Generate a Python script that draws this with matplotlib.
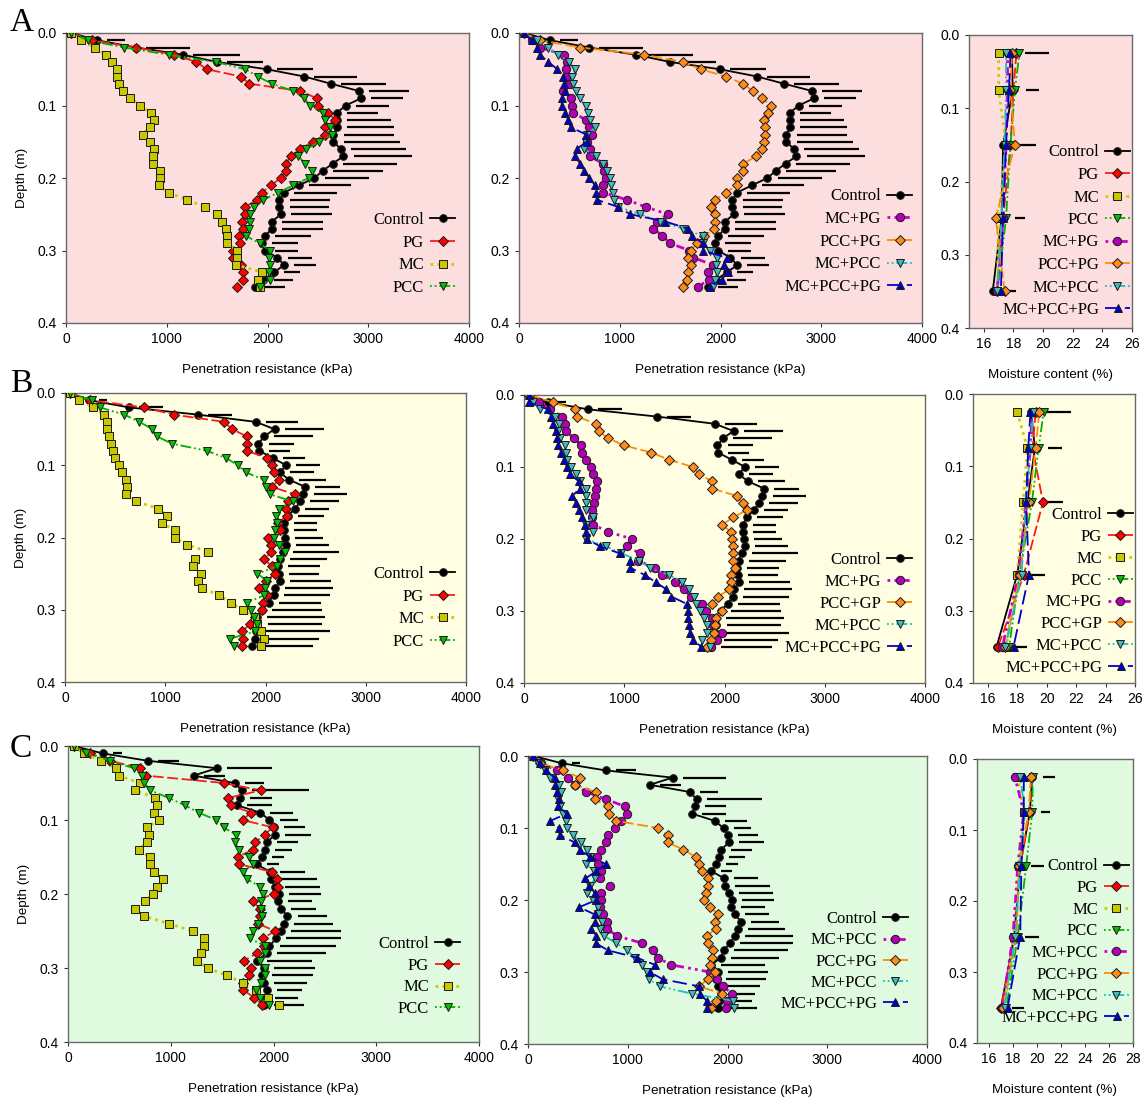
import matplotlib
matplotlib.use('Agg')
import matplotlib.pyplot as plt
import numpy as np

W, H = 1146, 1097

depth = [0.00, 0.01, 0.02, 0.03, 0.04, 0.05, 0.06, 0.07, 0.08, 0.09, 0.10, 0.11,
         0.12, 0.13, 0.14, 0.15, 0.16, 0.17, 0.18, 0.19, 0.20, 0.21, 0.22, 0.23,
         0.24, 0.25, 0.26, 0.27, 0.28, 0.29, 0.30, 0.31, 0.32, 0.33, 0.34, 0.35]
depth_wc = [0.025, 0.075, 0.15, 0.25, 0.35]

# ---- A : penetration resistance (kPa)
ctrl_a = [53, 307, 698, 1160, 1500, 1993, 2364, 2631, 2909, 2929, 2777, 2688, 2688, 2688, 2655, 2655, 2727, 2754,
          2648, 2549, 2466, 2314, 2165, 2119, 2119, 2135, 2043, 2043, 1977, 1944, 1977, 2099, 2165, 2066, 1960, 1878]
ctrl_a_err = [0, 275, 528, 569, 454, 463, 522, 546, 499, 420, 433, 413, 535, 568, 605, 661, 648, 677,
              641, 595, 546, 512, 523, 502, 496, 503, 506, 512, 456, 357, 324, 341, 318, 258, 291, 297]
pg_a = [50, 260, 698, 1074, 1293, 1398, 1736, 1821, 2324, 2489, 2506, 2605, 2671, 2572, 2572, 2450, 2324, 2231,
        2185, 2185, 2132, 2036, 1944, 1894, 1778, 1778, 1745, 1752, 1722, 1729, 1656, 1656, 1736, 1755, 1755, 1702]
mc_a = [53, 152, 284, 400, 460, 506, 506, 522, 565, 638, 737, 843, 876, 830, 760, 836, 869, 860,
        860, 936, 929, 919, 1018, 1200, 1382, 1498, 1547, 1587, 1597, 1597, 1702, 1702, 1689, 1950, 1904, 1921]
pcc_a = [53, 218, 579, 1018, 1491, 1779, 1904, 2043, 2258, 2364, 2423, 2549, 2572, 2621, 2638, 2516, 2383, 2307,
         2374, 2440, 2407, 2258, 2109, 1960, 1868, 1822, 1822, 1812, 1788, 1921, 2020, 2010, 2020, 2010, 2020, 1921]
mcpg_a = [50, 130, 209, 447, 480, 467, 467, 507, 440, 513, 523, 540, 666, 699, 728, 672, 705, 705,
          831, 844, 864, 838, 831, 1070, 1258, 1477, 1368, 1334, 1424, 1500, 1689, 1732, 1930, 1874, 1881, 1781]
pccpg_a = [50, 209, 606, 1245, 1626, 1805, 2053, 2222, 2321, 2414, 2503, 2474, 2427, 2444, 2437, 2427, 2411, 2354,
           2228, 2222, 2162, 2162, 2056, 1950, 1907, 1947, 1950, 1940, 1841, 1765, 1709, 1682, 1705, 1682, 1666, 1623]
mcpcc_a = [50, 175, 291, 391, 500, 556, 523, 533, 566, 606, 666, 689, 705, 755, 679, 666, 649, 765,
           831, 871, 904, 911, 937, 947, 987, 1202, 1401, 1632, 1825, 1831, 1897, 1970, 1957, 1964, 1947, 1930]
mcpccpg_a = [50, 126, 182, 209, 291, 381, 434, 450, 457, 424, 424, 457, 490, 513, 666, 672, 573, 556,
             606, 649, 699, 755, 765, 772, 987, 1103, 1450, 1682, 1715, 1825, 1825, 2063, 2030, 2070, 2013, 1897]

# ---- A : moisture content (%)
wc_ctrl_a = [17.9, 17.95, 17.3, 17.2, 16.6]
wc_ctrl_a_err = [2.5, 1.8, 2.2, 1.6, 1.6]
wc_pg_a = [18.2, 18.0, 17.8, 17.3, 16.9]
wc_mc_a = [17.0, 17.0, 17.5, 17.0, 16.9]
wc_pcc_a = [18.4, 18.1, 17.8, 17.5, 16.9]
wc_mcpg_a = [17.6, 17.6, 17.5, 17.3, 16.9]
wc_pccpg_a = [17.9, 17.8, 18.1, 16.8, 17.4]
wc_mcpcc_a = [17.5, 17.5, 17.4, 17.2, 16.9]
wc_mcpccpg_a = [17.8, 17.7, 17.5, 17.3, 17.15]

# ---- B : penetration resistance (kPa)
ctrl_b = [50, 243, 642, 1331, 1903, 2090, 1987, 1930, 1937, 2073, 2206, 2140, 2236, 2396, 2379, 2346, 2296, 2220,
          2186, 2186, 2196, 2206, 2173, 2140, 2120, 2130, 2146, 2096, 2080, 2030, 1963, 1913, 1920, 1907, 1897, 1864]
ctrl_b_err = [0, 173, 340, 333, 420, 496, 482, 350, 309, 323, 333, 339, 366, 349, 433, 383, 333, 359,
              326, 326, 373, 423, 562, 472, 426, 399, 510, 573, 566, 526, 599, 676, 642, 739, 632, 605]
pg_b = [50, 250, 789, 1088, 1591, 1664, 1814, 1814, 1814, 2013, 2063, 2080, 2133, 2063, 2290, 2220, 2206, 2213,
        2120, 2140, 2023, 2053, 2053, 1990, 2063, 2096, 2007, 1940, 2013, 1980, 1963, 1897, 1847, 1764, 1774, 1764]
mc_b = [50, 143, 276, 393, 423, 416, 443, 456, 483, 502, 542, 569, 609, 622, 609, 706, 932, 1022,
        965, 1098, 1098, 1221, 1431, 1298, 1281, 1358, 1331, 1371, 1537, 1654, 1774, 1897, 1913, 1957, 1987, 1957]
pcc_b = [50, 266, 349, 592, 742, 872, 915, 1065, 1414, 1607, 1724, 1804, 1987, 2003, 2040, 2270, 2130, 2106,
         2113, 2096, 2080, 2130, 2196, 2146, 2113, 1920, 2013, 1997, 1987, 1814, 1854, 1887, 1913, 1897, 1647, 1681]
mcpg_b = [50, 150, 263, 379, 406, 416, 499, 572, 582, 622, 666, 689, 729, 715, 705, 695, 682, 682,
          689, 839, 1078, 1028, 1155, 1138, 1304, 1378, 1504, 1594, 1661, 1780, 1820, 1880, 1887, 1980, 1930, 1864]
pccpg_b = [50, 290, 506, 529, 722, 745, 839, 998, 1271, 1448, 1687, 1744, 1877, 1877, 2120, 2180, 2220, 2087,
           1977, 2060, 2070, 2087, 2080, 2087, 2103, 2060, 2060, 2047, 1937, 1877, 1980, 1913, 1904, 1897, 1870, 1830]
mcpcc_b = [50, 90, 156, 306, 349, 339, 356, 406, 416, 429, 473, 522, 556, 622, 616, 616, 622, 689,
           616, 689, 616, 815, 972, 1148, 1255, 1448, 1581, 1647, 1697, 1714, 1754, 1797, 1827, 1827, 1780, 1854]
mcpccpg_b = [50, 50, 240, 273, 290, 316, 329, 343, 373, 396, 429, 456, 549, 556, 483, 522, 549, 582,
             606, 616, 629, 755, 955, 1055, 1062, 1205, 1314, 1421, 1471, 1621, 1637, 1637, 1647, 1654, 1687, 1770]

# ---- B : moisture content (%)
wc_ctrl_b = [18.95, 19.2, 18.7, 18.0, 16.6]
wc_ctrl_b_err = [2.7, 1.85, 2.4, 1.9, 2.1]
wc_pg_b = [19.25, 19.05, 19.75, 18.45, 16.7]
wc_mc_b = [18.0, 18.7, 18.4, 18.0, 17.25]
wc_pcc_b = [19.8, 19.45, 19.0, 18.15, 17.45]
wc_mcpg_b = [19.0, 18.9, 18.6, 18.1, 17.0]
wc_pccpg_b = [19.5, 19.25, 18.8, 18.2, 17.2]
wc_mcpcc_b = [19.1, 18.9, 18.6, 18.3, 17.2]
wc_mcpccpg_b = [18.9, 18.75, 18.6, 18.8, 17.75]

# ---- C : penetration resistance (kPa)
ctrl_c = [55, 337, 778, 1449, 1222, 1621, 1692, 1676, 1643, 1870, 1961, 2006, 2016, 1935, 1919, 1887, 1838, 1968,
          1974, 2016, 2049, 2039, 2075, 2136, 2104, 2071, 2026, 1961, 1935, 1838, 1903, 1887, 1903, 1935, 1919, 1903]
ctrl_c_err = [0, 188, 305, 535, 308, 282, 655, 308, 341, 324, 276, 302, 350, 308, 259, 217, 211, 340,
              454, 438, 415, 334, 340, 383, 473, 584, 629, 648, 577, 541, 502, 502, 421, 341, 324, 389]
pg_c = [55, 211, 412, 703, 758, 1514, 1877, 1562, 1585, 1780, 1699, 1994, 1913, 1822, 1799, 1650, 1669, 1984,
        2032, 2042, 2000, 1805, 1864, 1864, 1848, 2016, 1896, 1903, 1838, 1715, 1780, 1757, 1708, 1708, 1812, 1887]
mc_c = [55, 152, 321, 470, 493, 697, 655, 849, 865, 833, 882, 768, 784, 768, 687, 794, 794, 833,
        924, 866, 823, 752, 655, 742, 979, 1216, 1326, 1326, 1297, 1255, 1358, 1546, 1699, 1831, 1951, 2049]
pcc_c = [55, 178, 412, 639, 720, 742, 801, 979, 1135, 1271, 1443, 1514, 1637, 1627, 1660, 1757, 1796, 1708,
         1741, 1870, 1896, 1877, 1877, 1887, 1848, 1805, 1767, 1919, 1919, 1864, 1919, 1919, 1880, 1831, 1870, 1961]
mcpg_c = [50, 134, 291, 402, 470, 586, 780, 971, 997, 937, 870, 803, 780, 736, 693, 706, 736, 720,
          820, 736, 730, 726, 753, 787, 787, 897, 1145, 1249, 1299, 1433, 1824, 1891, 1958, 2042, 1992, 1985]
pccpg_c = [50, 117, 351, 519, 469, 680, 669, 797, 810, 880, 1305, 1399, 1399, 1556, 1680, 1717, 1747, 1808,
           1801, 1781, 1764, 1824, 1908, 1874, 1881, 1791, 1801, 1851, 1848, 1824, 1874, 1801, 1717, 1941, 1884, 1831]
mcpcc_c = [50, 100, 167, 218, 311, 335, 301, 318, 355, 385, 392, 452, 536, 592, 619, 586, 659, 676,
           619, 592, 653, 703, 703, 740, 720, 763, 887, 994, 1071, 1145, 1188, 1212, 1322, 1640, 2059, 2065]
mcpccpg_c = [50, 117, 177, 268, 268, 291, 308, 300, 392, 224, 311, 318, 469, 525, 619, 780, 686, 576,
             612, 669, 686, 512, 669, 669, 636, 686, 680, 803, 1088, 1272, 1222, 1349, 1717, 1724, 1791, 1791]

# ---- C : moisture content (%)
wc_ctrl_c = [19.6, 19.4, 18.6, 18.1, 17.0]
wc_ctrl_c_err = [1.9, 1.65, 2.0, 2.1, 1.95]
wc_pg_c = [19.5, 19.4, 18.6, 18.2, 17.0]
wc_mc_c = [18.35, 18.95, 18.5, 18.05, 17.25]
wc_pcc_c = [19.65, 19.6, 19.1, 18.4, 17.45]
wc_mcpg_c = [18.15, 18.9, 18.4, 18.0, 17.1]
wc_pccpg_c = [19.5, 19.3, 18.5, 18.3, 17.2]
wc_mcpcc_c = [18.6, 19.0, 18.6, 18.2, 17.3]
wc_mcpccpg_c = [18.9, 18.9, 18.7, 18.6, 17.55]

dash2 = (0, (1, 1.6, 1, 1.6, 6, 1.6))
styles = {
    'Control':   dict(color='black', marker='o', mfc='black', ms=5.5, ls='-', lw=1.3),
    'PG':        dict(color='#ff1a1a', marker='D', mfc='#ff0000', ms=5, ls=(0, (6, 2)), lw=1.3),
    'MC':        dict(color='#cccc00', marker='s', mfc='#c8c800', ms=5.5, ls=(0, (1, 1.5)), lw=2),
    'PCC':       dict(color='#00b000', marker='v', mfc='#00c000', ms=6, ls=dash2, lw=1.3),
    'MC+PG':     dict(color='#cc00cc', marker='o', mfc='#b400b4', ms=6, ls=(0, (1, 1.5, 1, 1.5, 3, 1.5)), lw=2),
    'PCC+PG':    dict(color='#ff8c00', marker='D', mfc='#ff8c1a', ms=5, ls=(0, (6, 2)), lw=1.3),
    'MC+PCC':    dict(color='#1ac0c0', marker='v', mfc='#3cbcbc', ms=6, ls=dash2, lw=1.3),
    'MC+PCC+PG': dict(color='#0000cc', marker='^', mfc='#0000cc', ms=6, ls=(0, (8, 3)), lw=1.3),
}

bg_a, bg_b, bg_c = '#fcdede', '#fffde2', '#e0fae0'
sans = ['Liberation Sans', 'DejaVu Sans']
serif = ['Liberation Serif', 'DejaVu Serif']

plt.rcParams['font.family'] = sans

fig = plt.figure(figsize=(W / 100, H / 100), dpi=100)


def px_axes(l, t, r, b):
    return fig.add_axes([l / W, 1 - b / H, (r - l) / W, (b - t) / H])


def style_axes(ax, bg, xlim, xticks, xlabel, ylabel):
    ax.set_facecolor(bg)
    ax.set_ylim(0.4, 0)
    ax.set_yticks([0.0, 0.1, 0.2, 0.3, 0.4])
    ax.set_yticklabels(['0.0', '0.1', '0.2', '0.3', '0.4'])
    ax.set_xlim(*xlim)
    ax.set_xticks(xticks)
    ax.tick_params(direction='out', length=3, width=0.8, labelsize=10, colors='#333333', labelcolor='black')
    for s in ax.spines.values():
        s.set_color('#6a6a6a')
        s.set_linewidth(1.0)
    ax.set_xlabel(xlabel, fontsize=9.7, labelpad=13)
    if ylabel:
        ax.set_ylabel(ylabel, fontsize=9.7, labelpad=7)


def add_legend(ax, box, inset_r, inset_b, spacing):
    l, t, r, b = box
    ax.legend(loc='lower right', bbox_to_anchor=(1 - inset_r / (r - l), inset_b / (b - t)),
              frameon=False, prop={'family': serif, 'size': 12}, markerfirst=False,
              handlelength=1.5, handletextpad=0.35, labelspacing=spacing,
              borderpad=0, borderaxespad=0)


def plot_series(ax, y, items):
    for key, label, vals in items:
        st = styles[key]
        ax.plot(vals, y, color=st['color'], ls=st['ls'], lw=st['lw'], marker=st['marker'],
                ms=st['ms'], mfc=st['mfc'], mec='#1a1a1a', mew=0.7, label=label, zorder=3)


def err_lines(ax, y, ctrl, err, gap):
    c = np.array(ctrl, float)
    e = np.array(err, float)
    keep = e > 0
    ax.hlines(np.array(y)[keep], (c + gap)[keep], (c + e)[keep], color='black', lw=1.6, zorder=2)


rows = [
    dict(bg=bg_a, letter='A', letter_xy=(10, 31),
         boxes=[(66, 33, 469, 323), (519, 33, 922, 323), (969, 35, 1132, 328)],
         leg=[(14, 27, 0.40), (10, 28, 0.40), (2, 10, 0.39)],
         ctrl=ctrl_a, err=ctrl_a_err,
         left=[('PG', 'PG', pg_a), ('MC', 'MC', mc_a), ('PCC', 'PCC', pcc_a)],
         mid=[('MC+PG', 'MC+PG', mcpg_a), ('PCC+PG', 'PCC+PG', pccpg_a),
              ('MC+PCC', 'MC+PCC', mcpcc_a), ('MC+PCC+PG', 'MC+PCC+PG', mcpccpg_a)],
         wc_ctrl=wc_ctrl_a, wc_err=wc_ctrl_a_err,
         wc=[('PG', 'PG', wc_pg_a), ('MC', 'MC', wc_mc_a), ('PCC', 'PCC', wc_pcc_a),
             ('MC+PG', 'MC+PG', wc_mcpg_a), ('PCC+PG', 'PCC+PG', wc_pccpg_a),
             ('MC+PCC', 'MC+PCC', wc_mcpcc_a), ('MC+PCC+PG', 'MC+PCC+PG', wc_mcpccpg_a)],
         wc_lim=(15, 26), wc_ticks=[16, 18, 20, 22, 24, 26]),
    dict(bg=bg_b, letter='B', letter_xy=(10, 392),
         boxes=[(65, 393, 466, 682), (524, 395, 925, 683), (973, 394, 1135, 683)],
         leg=[(11, 32, 0.40), (13, 27, 0.36), (2, 7, 0.35)],
         ctrl=ctrl_b, err=ctrl_b_err,
         left=[('PG', 'PG', pg_b), ('MC', 'MC', mc_b), ('PCC', 'PCC', pcc_b)],
         mid=[('MC+PG', 'MC+PG', mcpg_b), ('PCC+PG', 'PCC+GP', pccpg_b),
              ('MC+PCC', 'MC+PCC', mcpcc_b), ('MC+PCC+PG', 'MC+PCC+PG', mcpccpg_b)],
         wc_ctrl=wc_ctrl_b, wc_err=wc_ctrl_b_err,
         wc=[('PG', 'PG', wc_pg_b), ('MC', 'MC', wc_mc_b), ('PCC', 'PCC', wc_pcc_b),
             ('MC+PG', 'MC+PG', wc_mcpg_b), ('PCC+PG', 'PCC+GP', wc_pccpg_b),
             ('MC+PCC', 'MC+PCC', wc_mcpcc_b), ('MC+PCC+PG', 'MC+PCC+PG', wc_mcpccpg_b)],
         wc_lim=(15, 26), wc_ticks=[16, 18, 20, 22, 24, 26]),
    dict(bg=bg_c, letter='C', letter_xy=(10, 757),
         boxes=[(68, 746, 479, 1042), (528, 756, 927, 1044), (977, 759, 1133, 1043)],
         leg=[(19, 25, 0.34), (19, 32, 0.31), (4, 17, 0.34)],
         ctrl=ctrl_c, err=ctrl_c_err,
         left=[('PG', 'PG', pg_c), ('MC', 'MC', mc_c), ('PCC', 'PCC', pcc_c)],
         mid=[('MC+PG', 'MC+PCC', mcpg_c), ('PCC+PG', 'PCC+PG', pccpg_c),
              ('MC+PCC', 'MC+PCC', mcpcc_c), ('MC+PCC+PG', 'MC+PCC+PG', mcpccpg_c)],
         wc_ctrl=wc_ctrl_c, wc_err=wc_ctrl_c_err,
         wc=[('PG', 'PG', wc_pg_c), ('MC', 'MC', wc_mc_c), ('PCC', 'PCC', wc_pcc_c),
             ('MC+PG', 'MC+PCC', wc_mcpg_c), ('PCC+PG', 'PCC+PG', wc_pccpg_c),
             ('MC+PCC', 'MC+PCC', wc_mcpcc_c), ('MC+PCC+PG', 'MC+PCC+PG', wc_mcpccpg_c)],
         wc_lim=(15, 28), wc_ticks=[16, 18, 20, 22, 24, 26, 28]),
]

pr_ticks = [0, 1000, 2000, 3000, 4000]
for row in rows:
    b_left, b_mid, b_right = row['boxes']
    leg_l, leg_m, leg_r = row['leg']

    # left panel: single treatments
    ax = px_axes(*b_left)
    style_axes(ax, row['bg'], (0, 4000), pr_ticks, 'Penetration resistance (kPa)', 'Depth (m)')
    err_lines(ax, depth, row['ctrl'], row['err'], 100)
    plot_series(ax, depth, [('Control', 'Control', row['ctrl'])] + row['left'])
    add_legend(ax, b_left, *leg_l)

    # middle panel: combinations
    ax = px_axes(*b_mid)
    style_axes(ax, row['bg'], (0, 4000), pr_ticks, 'Penetration resistance (kPa)', None)
    err_lines(ax, depth, row['ctrl'], row['err'], 100)
    plot_series(ax, depth, [('Control', 'Control', row['ctrl'])] + row['mid'])
    add_legend(ax, b_mid, *leg_m)

    # right panel: moisture content
    ax = px_axes(*b_right)
    style_axes(ax, row['bg'], row['wc_lim'], row['wc_ticks'], 'Moisture content (%)', None)
    err_lines(ax, depth_wc, row['wc_ctrl'], row['wc_err'], 0.9)
    plot_series(ax, depth_wc, [('Control', 'Control', row['wc_ctrl'])] + row['wc'])
    add_legend(ax, b_right, *leg_r)

    lx, ly = row['letter_xy']
    fig.text(lx / W, 1 - ly / H, row['letter'], fontsize=24, family=serif, va='baseline', ha='left')

fig.savefig('out.png', dpi=100)
